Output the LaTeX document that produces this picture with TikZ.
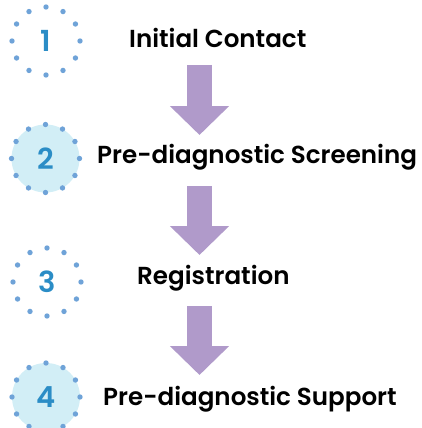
\documentclass[tikz,border=0pt]{standalone}
\usepackage{fontspec}
\setmainfont{Poppins}[BoldFont={* SemiBold}]
\usepackage{tikz}
\usetikzlibrary{arrows.meta, positioning}

\definecolor{dotblue}{HTML}{6FA3D8}
\definecolor{numblue}{HTML}{2B8DC6}
\definecolor{lightcyan}{HTML}{D2EEF6}
\definecolor{lavender}{HTML}{B09ACA}

\tikzset{
  num/.style={circle,minimum size=68pt,inner sep=0pt,text=numblue,font=\fontsize{29}{30}\selectfont\bfseries},
  filled/.style={fill=lightcyan},
  label/.style={anchor=west,inner sep=0pt,font=\fontsize{24.6}{26}\selectfont\bfseries},
  flow/.style={draw=lavender,line width=25.6pt,-{Triangle[width=57.6pt,length=29pt]},lavender}
}

\newcommand{\dotring}[1]{
  \foreach \a in {0,30,...,330}
    \fill[dotblue] (#1.center) ++(\a:34pt) circle (2.7pt);
}

\begin{document}
\begin{tikzpicture}[x=1pt,y=-1pt]
\useasboundingbox (0,0) rectangle (421,428);

\node[num] (n1) at (46,41) {1};
\node[num,filled] (n2) at (45.5,158.5) {2};
\node[num] (n3) at (47,282) {3};
\node[num,filled] (n4) at (46,397) {4};

\dotring{n1}
\dotring{n2}
\dotring{n3}
\dotring{n4}

\node[label] (s1) at (129,38) {Initial Contact};
\node[label] (s2) at (97,157.5) {Pre-diagnostic Screening};
\node[label] (s3) at (137,278) {Registration};
\node[label] (s4) at (103,399) {Pre-diagnostic Support};

% arrow ends
\coordinate (a1) at (199.5,65);
\coordinate (b1) at (199.5,135);
\coordinate (a2) at (199.5,186);
\coordinate (b2) at (199.5,255);
\coordinate (a3) at (199.5,306);
\coordinate (b3) at (199.5,375);

\draw[flow] (a1) -- (b1);
\draw[flow] (a2) -- (b2);
\draw[flow] (a3) -- (b3);
\end{tikzpicture}
\end{document}
